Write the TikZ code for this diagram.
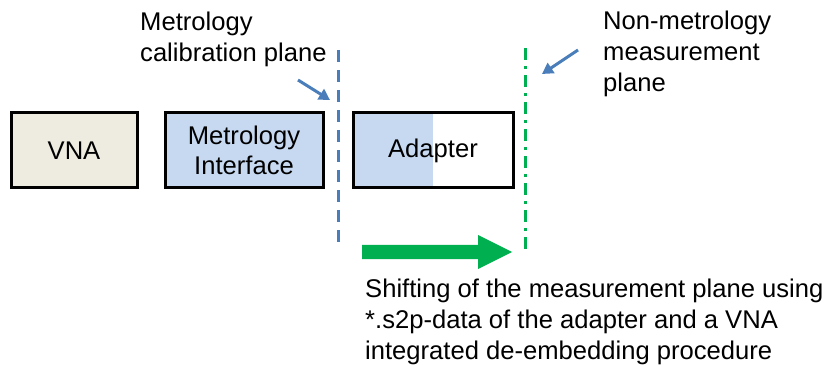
\documentclass[tikz,border=0pt]{standalone}
\usepackage{fontspec}
\setmainfont{Liberation Sans}
\usetikzlibrary{arrows.meta}
\definecolor{vnafill}{HTML}{EEECE1}
\definecolor{metfill}{HTML}{C6D9F1}
\definecolor{planeblue}{HTML}{4A7EBB}
\definecolor{planegreen}{HTML}{00B050}
\begin{document}
\begin{tikzpicture}[x=1pt,y=-1pt,
  box/.style={draw=black,line width=3pt,minimum width=#1,minimum height=75pt,inner sep=0pt,align=center,
    font=\fontsize{25.6}{30}\selectfont},
  lbl/.style={anchor=north west,inner sep=0pt,align=left,font=\fontsize{25.6}{31}\selectfont},
  pointer/.style={draw=planeblue,line width=3pt,-{Triangle[length=11pt,width=12pt]}}]
\useasboundingbox (0,0) rectangle (830,366);
% boxes
\node[box=126pt,fill=vnafill] (vna) at (74,150.5) {VNA};
\node[box=158pt,fill=metfill] (mif) at (244,150.5) {Metrology\\Interface};
\fill[metfill] (353,113) rectangle (433,188);
\node[box=160pt] (ad) at (433,150.5) {Adapter};
% planes
\coordinate (bt) at (338,50);
\coordinate (bb) at (338,246);
\draw[planeblue,line width=3pt,dash pattern=on 12pt off 8pt] (bt) -- (bb);
\coordinate (gt) at (525,48);
\coordinate (gb) at (525,253);
\draw[planegreen,line width=3pt,dash pattern=on 12pt off 6pt on 3pt off 6pt] (gt) -- (gb);
% labels
\node[lbl] (l1) at (140,12) {Metrology\\calibration plane};
\node[lbl] (l2) at (603,11) {Non-metrology\\measurement\\plane};
\node[lbl] (l3) at (365,279) {Shifting of the measurement plane using\\*.s2p-data of the adapter and a VNA\\integrated de-embedding procedure};
% pointers
\coordinate (p1s) at (298,80);
\coordinate (p1e) at (330,100);
\draw[pointer] (p1s) -- (p1e);
\coordinate (p2s) at (578,50);
\coordinate (p2e) at (542,74);
\draw[pointer] (p2s) -- (p2e);
% green shift arrow
\fill[planegreen] (362,245) -- (478,245) -- (478,235) -- (512,252) -- (478,269) -- (478,259) -- (362,259) -- cycle;
\end{tikzpicture}
\end{document}
